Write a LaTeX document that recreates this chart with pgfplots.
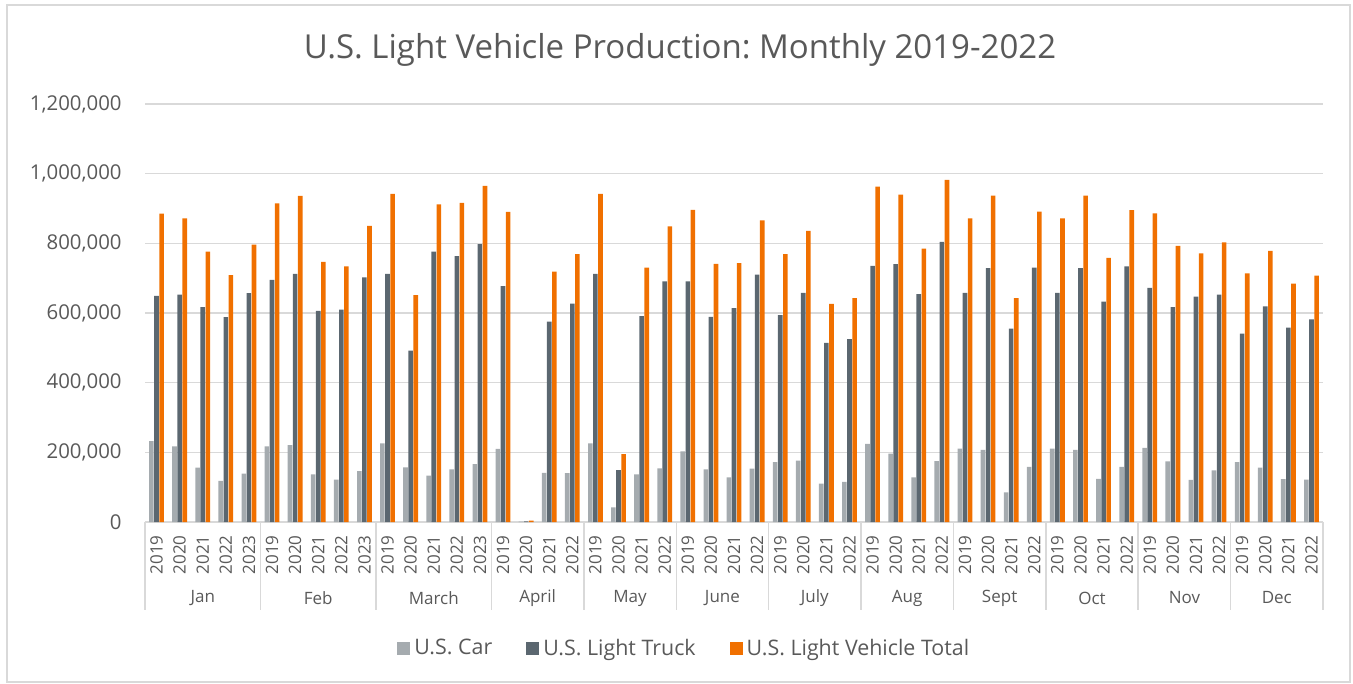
\documentclass[border=0pt]{standalone}
\usepackage{fontspec}
\setmainfont{Open Sans}
\usepackage{pgfplots}
\usepackage{pgfplotstable}
\pgfplotsset{compat=1.18}
\frenchspacing
\definecolor{carc}{HTML}{A5ABAF}
\definecolor{truckc}{HTML}{5B6770}
\definecolor{totalc}{HTML}{F07000}
\definecolor{gridc}{HTML}{D9D9D9}
\definecolor{textc}{HTML}{595959}
\pgfplotstableread{
x car truck total
0 232000 649000 885000
1 217000 653000 872000
2 156000 617000 776000
3 118000 588000 709000
4 139000 657000 796000
5 217000 695000 915000
6 221000 712000 936000
7 137000 606000 747000
8 122000 610000 734000
9 146000 702000 850000
10 226000 712000 942000
11 157000 492000 651000
12 133000 776000 912000
13 151000 763000 916000
14 166000 798000 965000
15 210000 677000 890000
16 1000 2000 4000
17 141000 575000 719000
18 140000 627000 769000
19 226000 712000 942000
20 42000 149000 195000
21 137000 591000 730000
22 154000 691000 849000
23 203000 691000 896000
24 151000 589000 741000
25 128000 614000 743000
26 153000 710000 866000
27 172000 594000 769000
28 176000 658000 836000
29 110000 514000 626000
30 115000 525000 643000
31 224000 735000 963000
32 196000 740000 940000
33 128000 654000 785000
34 175000 804000 982000
35 211000 658000 872000
36 207000 729000 937000
37 85000 555000 643000
38 158000 730000 891000
39 211000 658000 872000
40 207000 729000 937000
41 124000 633000 758000
42 158000 734000 895000
43 213000 672000 886000
44 174000 617000 793000
45 121000 647000 771000
46 148000 653000 803000
47 172000 541000 714000
48 156000 619000 778000
49 123000 558000 684000
50 122000 582000 707000
}\datatable
\begin{document}
\begin{tikzpicture}
\useasboundingbox (-72.5pt,-81pt) rectangle (604pt,261pt);
\draw[gridc, line width=0.75pt] (-69pt,-80pt) rectangle (602.5pt,258.5pt);
\begin{axis}[
  at={(0,0)}, anchor=south west,
  scale only axis, width=589pt, height=209pt,
  clip=false,
  ybar=0.25pt, bar width=2.3pt,
  xmin=-0.5, xmax=50.5,
  ymin=0, ymax=1200000,
  ytick={0,200000,400000,600000,800000,1000000,1200000},
  yticklabels={0,{200,000},{400,000},{600,000},{800,000},{1,000,000},{1,200,000}},
  scaled y ticks=false,
  yticklabel style={anchor=east, inner xsep=0pt, xshift=-11.5pt, font=\fontsize{10.2}{12}\selectfont, text=textc},
  xtick={0,...,50},
  xticklabels={2019,2020,2021,2022,2023,2019,2020,2021,2022,2023,2019,2020,2021,2022,2023,2019,2020,2021,2022,2019,2020,2021,2022,2019,2020,2021,2022,2019,2020,2021,2022,2019,2020,2021,2022,2019,2020,2021,2022,2019,2020,2021,2022,2019,2020,2021,2022,2019,2020,2021,2022},
  xticklabel style={rotate=90, anchor=east, inner xsep=6.5pt, inner ysep=0pt, font=\fontsize{8.5}{10}\selectfont, text=textc},
  major tick length=0pt,
  tick style={draw=none},
  ymajorgrids, grid style={gridc, line width=0.75pt},
  axis x line*=bottom,
  axis y line*=left,
  y axis line style={draw=none},
  x axis line style={gridc, line width=0.75pt, -},
  legend style={at={(0.4586,-0.3027)}, anchor=center, draw=none, fill=none, legend columns=3, font=\fontsize{10.7}{13}\selectfont, text=textc, /tikz/every even column/.append style={column sep=15pt}, /tikz/every odd column/.append style={column sep=0pt}},
  legend cell align=left,
  legend image code/.code={\draw[#1,draw=none] (0pt,-3.25pt) rectangle (6.5pt,3.25pt);},
]
\addplot[fill=carc, draw=none] table[x=x, y=car] {\datatable};
\addplot[fill=truckc, draw=none] table[x=x, y=truck] {\datatable};
\addplot[fill=totalc, draw=none] table[x=x, y=total] {\datatable};
\legend{U.S. Car, U.S. Light Truck, U.S. Light Vehicle Total}
\foreach \s in {-0.5,4.5,9.5,14.5,18.5,22.5,26.5,30.5,34.5,38.5,42.5,46.5,50.5} {
  \edef\temp{\noexpand\draw[gridc, line width=0.75pt] (axis cs:\s,0) -- ([yshift=-44pt]axis cs:\s,0);}
  \temp
}
\foreach \c/\m in {2/Jan,7/Feb,12/March,16.5/April,20.5/May,24.5/June,28.5/July,32.5/Aug,36.5/Sept,40.5/Oct,44.5/Nov,48.5/Dec} {
  \edef\temp{\noexpand\node[font=\noexpand\fontsize{8.5}{10}\noexpand\selectfont, text=textc] at ([yshift=-38pt]axis cs:\c,0) {\m};}
  \temp
}
\end{axis}
\node[font=\fontsize{16.5}{19}\selectfont, text=textc] at (267.5pt,236pt) {U.S. Light Vehicle Production: Monthly 2019-2022};
\end{tikzpicture}
\end{document}
